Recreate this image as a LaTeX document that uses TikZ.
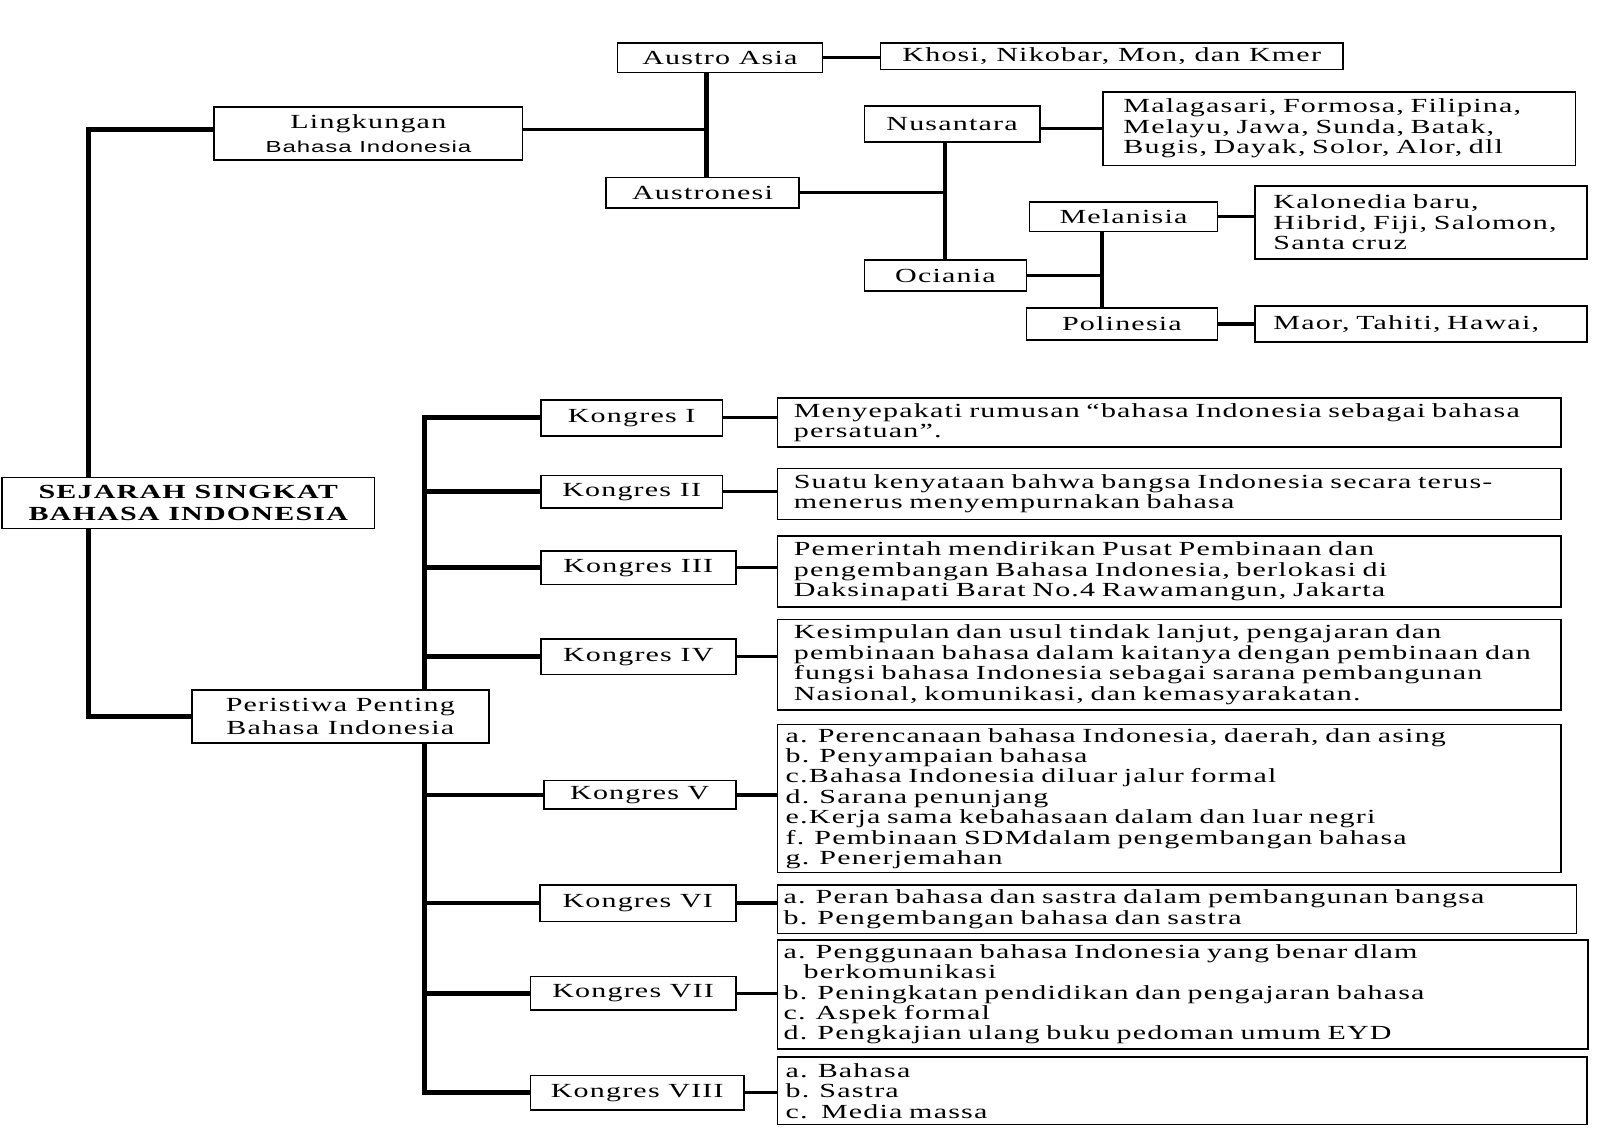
\documentclass[tikz,border=0pt]{standalone}
\usepackage{fontspec}
\setmainfont{Liberation Serif}[FakeStretch=1.5,LetterSpace=6]
\setsansfont{Liberation Sans}[FakeStretch=1.5,LetterSpace=6]

\tikzset{
  box/.style={draw, line width=.8pt, fill=white, inner sep=0pt, align=center,
    font=\fontsize{10}{10.2}\selectfont},
  sz/.style 2 args={minimum width=#1*.51pt, minimum height=#2*.51pt},
  desc/.style n args={3}{box, align=left, sz={#1}{#2}, text width=(#1-2*#3)*.51pt},
  trunk/.style={line width=2.4pt},
  link/.style={line width=1.6pt}
}

\begin{document}
\begin{tikzpicture}[x=.51pt,y=-.51pt]
  \useasboundingbox (0,0) rectangle (1568,1108);

  \node[box,sz={201}{29}] (aa) at (705.5,56.5) {Austro Asia};
  \node[box,sz={453}{26}] (aad) at (1089.5,55) {Khosi, Nikobar, Mon, dan Kmer};
  \node[box,sz={302}{52}] (lingk) at (361,131)
    {Lingkungan\\[2pt]{\sffamily\fontsize{8}{9}\selectfont Bahasa Indonesia}};
  \node[box,sz={189}{30}] (anes) at (688.5,189) {Austronesi};
  \node[box,sz={172}{35}] (nus) at (933,121.5) {Nusantara};
  \node[desc={463}{72}{20}] (nusd) at (1312.5,126)
    {Malagasari, Formosa, Filipina,\\ Melayu, Jawa, Sunda, Batak,\\ Bugis, Dayak, Solor, Alor, dll};
  \node[box,sz={159}{30}] (oci) at (926.5,270) {Ociania};
  \node[box,sz={184}{29}] (mel) at (1101,212.5) {Melanisia};
  \node[desc={325}{72}{18}] (meld) at (1392.5,218)
    {Kalonedia baru,\\ Hibrid, Fiji, Salomon,\\ Santa cruz};
  \node[box,sz={187}{31}] (pol) at (1099.5,317.5) {Polinesia};
  \node[desc={325}{35}{18}] (pold) at (1392.5,317.5) {Maor, Tahiti, Hawai,};

  \node[box,sz={365}{50},font=\fontsize{10}{10.6}\selectfont\bfseries] (sej) at (184.5,493)
    {SEJARAH SINGKAT\\ BAHASA INDONESIA};
  \node[box,sz={291}{52}] (peri) at (333.5,702) {Peristiwa Penting\\[1pt] Bahasa Indonesia};

  \foreach \i/\r/\w/\h/\x/\y in {1/I/178/35/619/409.5, 2/II/178/32/619/482,
      3/III/191/33/625.5/556.5, 4/IV/191/35/625.5/643.5, 5/V/188/28/627/779,
      6/VI/192/36/625/885, 7/VII/201/33/620.5/973.5, 8/VIII/209/34/624.5/1071}
    \node[box,sz={\w}{\h}] (k\i) at (\x,\y) {Kongres \r};

  \node[desc={768}{48}{16}] (d1) at (1146,414)
    {Menyepakati rumusan “bahasa Indonesia sebagai bahasa\\ persatuan”.};
  \node[desc={768}{50}{16}] (d2) at (1146,484)
    {Suatu kenyataan bahwa bangsa Indonesia secara terus-\\ menerus menyempurnakan bahasa};
  \node[desc={768}{70}{16}] (d3) at (1146,560)
    {Pemerintah mendirikan Pusat Pembinaan dan\\ pengembangan Bahasa Indonesia, berlokasi di\\
     Daksinapati Barat No.4 Rawamangun, Jakarta};
  \node[desc={768}{89}{16}] (d4) at (1146,651.5)
    {Kesimpulan dan usul tindak lanjut, pengajaran dan\\ pembinaan bahasa dalam kaitanya dengan pembinaan dan\\
     fungsi bahasa Indonesia sebagai sarana pembangunan\\ Nasional, komunikasi, dan kemasyarakatan.};
  \node[desc={768}{145}{8}] (d5) at (1146,782.5)
    {a. Perencanaan bahasa Indonesia, daerah, dan asing\\ b. Penyampaian bahasa\\
     c.Bahasa Indonesia diluar jalur formal\\ d. Sarana penunjang\\
     e.Kerja sama kebahasaan dalam dan luar negri\\ f. Pembinaan SDMdalam pengembangan bahasa\\
     g. Penerjemahan};
  \node[desc={783}{48}{6}] (d6) at (1153.5,891)
    {a. Peran bahasa dan sastra dalam pembangunan bangsa\\ b. Pengembangan bahasa dan sastra};
  \node[desc={794}{107}{6}] (d7) at (1159,974.5)
    {a. Penggunaan bahasa Indonesia yang benar dlam\\ \hspace*{10pt}berkomunikasi\\
     b. Peningkatan pendidikan dan pengajaran bahasa\\ c. Aspek formal\\
     d. Pengkajian ulang buku pedoman umum EYD};
  \node[desc={793}{66}{8}] (d8) at (1158.5,1069) {a. Bahasa\\ b. Sastra\\ c.~~Media massa};

  \coordinate (ja) at (692,127);
  \coordinate (jb) at (926,190);
  \coordinate (jc) at (1080,270);
  \coordinate (jl) at (87,127);
  \coordinate (jk) at (416,0);

  \draw[link] (aa.east) -- (aa.east -| aad.west);
  \draw[trunk] (aa.south -| ja) -- (anes.north -| ja);
  \draw[link] (lingk.east |- ja) -- (ja);
  \draw[link] (anes.east) -- (anes.east -| jb);
  \draw[trunk] (nus.south -| jb) -- (oci.north -| jb);
  \draw[link] (nus.east |- nusd.west) -- (nusd.west);
  \draw[link] (oci.east) -- (oci.east -| jc);
  \draw[trunk] (mel.south -| jc) -- (pol.north -| jc);
  \draw[link] (mel.east) -- (mel.east -| meld.west);
  \draw[link] (pol.east) -- (pold.west);

  \draw[trunk] (lingk.west |- jl) -| (sej.north -| jl);
  \draw[trunk] (sej.south -| jl) |- (peri.west);
  \draw[trunk] (k1.west) -| (peri.north -| jk) (peri.south -| jk) |- (k8.west);
  \foreach \i in {2,...,7}
    \draw[trunk] (k\i.west -| jk) -- (k\i.west);
  \foreach \i in {1,...,8}
    \draw[link] (k\i.east) -- (k\i.east -| d\i.west);
\end{tikzpicture}
\end{document}
